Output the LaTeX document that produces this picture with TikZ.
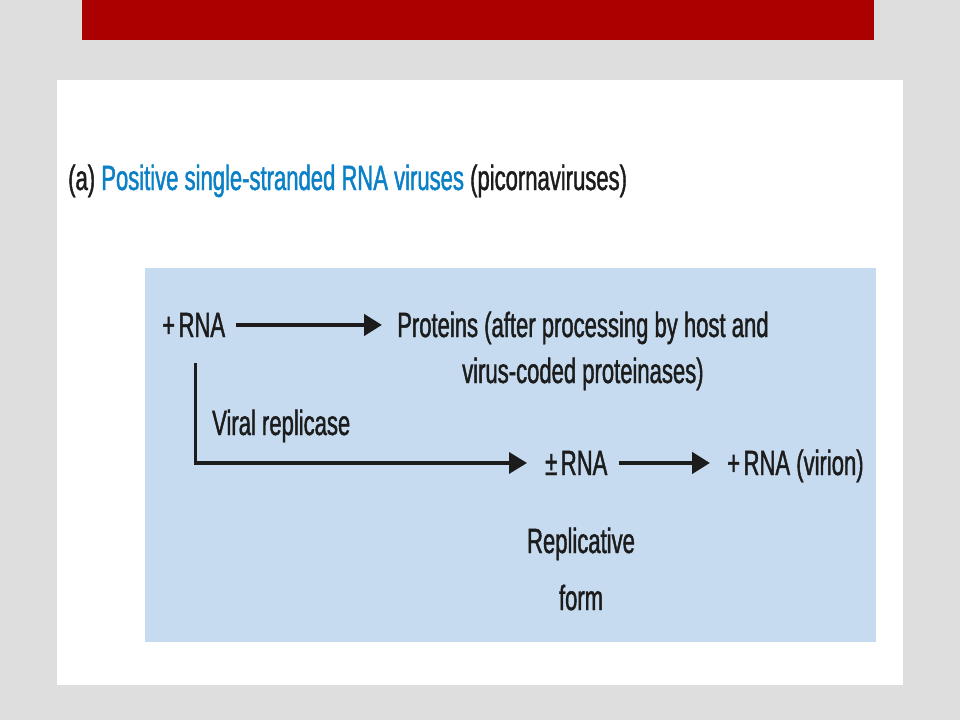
\documentclass[tikz,border=0pt]{standalone}
\usepackage{fontspec}
\setmainfont{Liberation Sans}[FakeStretch=0.63,FakeBold=1.2]
\usetikzlibrary{arrows.meta}
\definecolor{slidegray}{RGB}{222,222,222}
\definecolor{barred}{RGB}{170,0,0}
\definecolor{boxblue}{RGB}{198,219,240}
\definecolor{titleblue}{RGB}{10,128,198}
\definecolor{ink}{RGB}{28,28,28}
\begin{document}
\begin{tikzpicture}[x=1pt,y=-1pt,
    lbl/.style={inner sep=0pt,anchor=base west,text=ink,font=\fontsize{35}{40}\selectfont},
    flow/.style={draw=ink,line width=4.5pt,-{Triangle[length=18pt,width=21pt]}}]
    % slide background
    \fill [slidegray] (0,0) rectangle (960,720);
    \useasboundingbox (0,0) rectangle (960,720);
    \fill [barred] (82,0) rectangle (874,40);
    \fill [white] (57,80) rectangle (903,685);
    \fill [boxblue] (145,268) rectangle (876,642);
    % title
    \node [lbl] (title) at (68,190) {(a) \textcolor{titleblue}{Positive single-stranded RNA viruses} (picornaviruses)};
    % texts
    \node [lbl] (plusrna) at (162,337) {+\kern0.1em RNA};
    \node [lbl] (proteins) at (397,337) {Proteins (after processing by host and};
    \node [lbl] (coded) at (462,383) {virus-coded proteinases)};
    \node [lbl] (replicase) at (212,435) {Viral replicase};
    \node [lbl] (pmrna) at (545,475) {±\kern0.1em RNA};
    \node [lbl] (virion) at (727,475) {+\kern0.1em RNA (virion)};
    \node [lbl,anchor=base] (repl) at (581,553) {Replicative};
    \node [lbl,anchor=base] (form) at (581,610) {form};
    % arrows
    \draw [flow,shorten <=11pt,shorten >=15pt] (plusrna.east) -- (plusrna.east -| proteins.west);
    \draw [flow,line width=3.5pt,shorten <=26pt,shorten >=18pt] ([xshift=2pt]plusrna.south) |- (pmrna.west);
    \draw [flow,shorten <=11pt,shorten >=17pt] (pmrna.east) -- (pmrna.east -| virion.west);
\end{tikzpicture}
\end{document}
